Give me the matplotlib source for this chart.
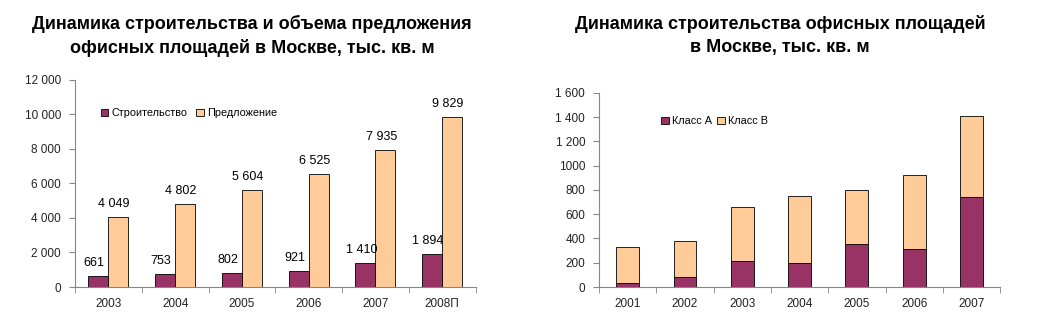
import numpy as np
import matplotlib.pyplot as plt
from matplotlib.ticker import FixedLocator

plt.rcParams['font.family'] = ['Liberation Sans', 'DejaVu Sans']

# left chart: construction vs supply
years1 = ['2003', '2004', '2005', '2006', '2007', '2008П']
stroit = [661, 753, 802, 921, 1410, 1894]
predl = [4049, 4802, 5604, 6525, 7935, 9829]
yticks1 = [0, 2000, 4000, 6000, 8000, 10000, 12000]
ylabels1 = ['0', '2 000', '4 000', '6 000', '8 000', '10 000', '12 000']

# right chart: class A / class B
years2 = ['2001', '2002', '2003', '2004', '2005', '2006', '2007']
class_a = [35, 85, 212, 200, 357, 315, 745]
class_b = [295, 293, 449, 553, 445, 606, 665]
yticks2 = [0, 200, 400, 600, 800, 1000, 1200, 1400, 1600]
ylabels2 = ['0', '200', '400', '600', '800', '1000', '1 200', '1 400', '1 600']

purple = '#993366'
beige = '#FFCC99'
gray = '#868686'

def fmt(v):
    return '{:,}'.format(v).replace(',', ' ')

def style_axes(ax, n):
    for s in ['top', 'right']:
        ax.spines[s].set_visible(False)
    ax.spines['left'].set_color(gray)
    ax.spines['bottom'].set_color(gray)
    ax.set_xlim(-0.5, n - 0.5)
    ax.xaxis.set_minor_locator(FixedLocator(np.arange(-0.5, n, 1.0)))
    ax.tick_params(axis='x', which='major', length=0, labelsize=8.5, pad=8, colors='#222222')
    ax.tick_params(axis='x', which='minor', length=4, color=gray, direction='out')
    ax.tick_params(axis='y', length=4, color=gray, labelsize=8.5, colors='#222222', pad=6)

fig = plt.figure(figsize=(10.64, 3.3), dpi=100)

ax1 = fig.add_axes([0.0705, 0.1303, 0.3765, 0.6273])
x1 = np.arange(len(years1))
w = 0.3
ax1.bar(x1 - w / 2, stroit, w, color=purple, edgecolor='black', linewidth=0.6, label='Строительство')
ax1.bar(x1 + w / 2, predl, w, color=beige, edgecolor='black', linewidth=0.6, label='Предложение')
for xi, v in zip(x1 - w / 2, stroit):
    ax1.annotate(fmt(v), (xi, v), xytext=(-3, 5), textcoords='offset points', ha='center', va='bottom', fontsize=9)
for xi, v in zip(x1 + w / 2, predl):
    ax1.annotate(fmt(v), (xi, v), xytext=(-3, 5), textcoords='offset points', ha='center', va='bottom', fontsize=9)
ax1.set_ylim(0, 12000)
ax1.set_yticks(yticks1)
ax1.set_yticklabels(ylabels1)
ax1.set_xticks(x1)
ax1.set_xticklabels(years1)
style_axes(ax1, len(years1))
ax1.legend(loc='upper left', bbox_to_anchor=(0.04, 0.91), ncol=2, frameon=False, fontsize=7.8,
           handlelength=0.7, handleheight=0.7, handletextpad=0.3, columnspacing=0.8)

ax2 = fig.add_axes([0.563, 0.1303, 0.377, 0.5879])
x2 = np.arange(len(years2))
w2 = 0.4
ax2.bar(x2, class_a, w2, color=purple, edgecolor='black', linewidth=0.6, label='Класс А')
ax2.bar(x2, class_b, w2, bottom=class_a, color=beige, edgecolor='black', linewidth=0.6, label='Класс В')
ax2.set_ylim(0, 1600)
ax2.set_yticks(yticks2)
ax2.set_yticklabels(ylabels2)
ax2.set_xticks(x2)
ax2.set_xticklabels(years2)
style_axes(ax2, len(years2))
ax2.legend(loc='upper left', bbox_to_anchor=(0.13, 0.93), ncol=2, frameon=False, fontsize=7.8,
           handlelength=0.7, handleheight=0.7, handletextpad=0.3, columnspacing=0.5)

fig.text(0.237, 0.955, 'Динамика строительства и объема предложения\nофисных площадей в Москве, тыс. кв. м',
         ha='center', va='top', fontsize=13, fontweight='bold', linespacing=1.45)
fig.text(0.733, 0.955, 'Динамика строительства офисных площадей\nв Москве, тыс. кв. м',
         ha='center', va='top', fontsize=13, fontweight='bold', linespacing=1.45)

fig.savefig('out.png', dpi=100, facecolor='white')
